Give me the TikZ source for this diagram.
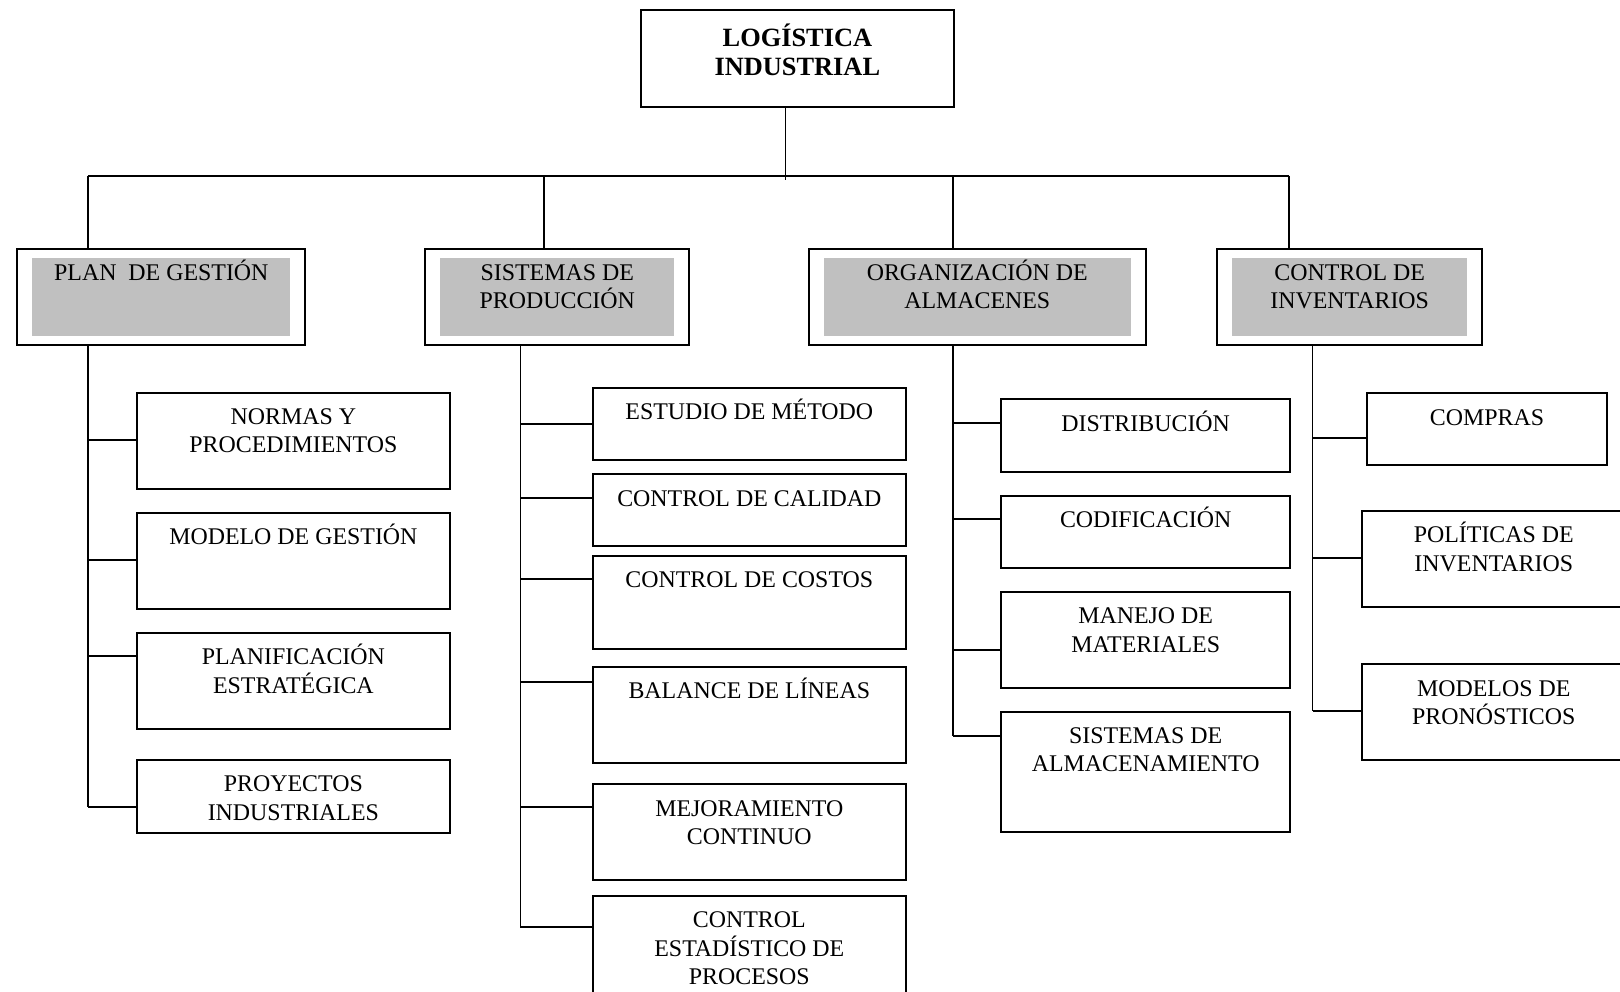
\documentclass[tikz,border=0pt]{standalone}
\usepackage{fontspec}
\setmainfont{Liberation Serif}
\usetikzlibrary{positioning,fit}
\definecolor{panel}{RGB}{192,192,192}

\begin{document}
\begin{tikzpicture}[x=0.02cm, y=-0.02cm]
      \tikzstyle{box} = [draw, rectangle, line width=1.2pt, inner sep=0pt, anchor=north west]
      \tikzstyle{band} = [fill=panel, inner xsep=-0.32cm, inner ysep=-0.21cm]
      \tikzstyle{lbl} = [align=center, inner sep=0pt, font=\fontsize{13.6}{16.2}\selectfont]
      \tikzstyle{link} = [line width=1pt]
      \useasboundingbox (0,0) rectangle (1620,991);
      \clip (0,0) rectangle (1620,991);

      % raiz
      \node [box, minimum width=6.254cm, minimum height=1.94cm] (log) at (640,9) {};
      \node [lbl, font=\fontsize{15}{16.7}\selectfont\bfseries, below=0.742cm of log.north, anchor=base, yshift=-16.7pt] (log-t) {LOGÍSTICA\\INDUSTRIAL};

      % areas
      \node [box, minimum width=5.764cm, minimum height=1.926cm] (plan) at (16.2,247.7) {};
      \node [box, minimum width=5.282cm, minimum height=1.926cm] (sist) at (424.2,247.7) {};
      \node [box, minimum width=6.738cm, minimum height=1.926cm] (alm) at (807.8,247.7) {};
      \node [box, minimum width=5.294cm, minimum height=1.926cm] (inv) at (1216.3,247.7) {};
      \foreach \n in {plan,sist,alm,inv}
        \node [band, fit=(\n)] (\n-bg) {};

      % plan de gestion
      \node [box, minimum width=6.254cm, minimum height=1.932cm] (nor) at (136,391.7) {};
      \node [box, minimum width=6.254cm, minimum height=1.92cm] (mod) at (136,511.7) {};
      \node [box, minimum width=6.254cm, minimum height=1.926cm] (pla) at (136,632) {};
      \node [box, minimum width=6.254cm, minimum height=1.454cm] (pro) at (136,759) {};

      % sistemas de produccion
      \node [box, minimum width=6.252cm, minimum height=1.452cm] (est) at (592,386.7) {};
      \node [box, minimum width=6.252cm, minimum height=1.44cm] (cal) at (592,473.3) {};
      \node [box, minimum width=6.252cm, minimum height=1.854cm] (cos) at (592,555) {};
      \node [box, minimum width=6.252cm, minimum height=1.92cm] (bal) at (592,665.7) {};
      \node [box, minimum width=6.252cm, minimum height=1.914cm] (mej) at (592,783.3) {};
      \node [box, minimum width=6.252cm, minimum height=2.4cm] (esd) at (592,895) {};

      % organizacion de almacenes
      \node [box, minimum width=5.774cm, minimum height=1.454cm] (dis) at (1000.3,398.3) {};
      \node [box, minimum width=5.774cm, minimum height=1.446cm] (cod) at (1000.3,495) {};
      \node [box, minimum width=5.774cm, minimum height=1.926cm] (man) at (1000.3,591) {};
      \node [box, minimum width=5.774cm, minimum height=2.406cm] (sal) at (1000.3,710.7) {};

      % control de inventarios
      \node [box, minimum width=4.802cm, minimum height=1.44cm] (com) at (1365.9,392.3) {};
      \node [box, minimum width=5.29cm, minimum height=1.92cm] (pol) at (1360.5,510) {};
      \node [box, minimum width=5.29cm, minimum height=1.914cm] (mdp) at (1360.5,663.3) {};

      % \k = lineas extra del texto
      \foreach \n/\k/\t in {plan/0/{PLAN~ DE GESTIÓN}, sist/1/{SISTEMAS DE\\PRODUCCIÓN},
          alm/1/{ORGANIZACIÓN DE\\ALMACENES}, inv/1/{CONTROL DE\\INVENTARIOS},
          nor/1/{NORMAS Y\\PROCEDIMIENTOS}, mod/0/{MODELO DE GESTIÓN},
          pla/1/{PLANIFICACIÓN\\ESTRATÉGICA}, pro/1/{PROYECTOS\\INDUSTRIALES},
          est/0/{ESTUDIO DE MÉTODO}, cal/0/{CONTROL DE CALIDAD}, cos/0/{CONTROL DE COSTOS},
          bal/0/{BALANCE DE LÍNEAS}, mej/1/{MEJORAMIENTO\\CONTINUO},
          esd/2/{CONTROL\\ESTADÍSTICO DE\\PROCESOS},
          dis/0/{DISTRIBUCIÓN}, cod/0/{CODIFICACIÓN}, man/1/{MANEJO DE\\MATERIALES},
          sal/1/{SISTEMAS DE\\ALMACENAMIENTO},
          com/0/{COMPRAS}, pol/1/{POLÍTICAS DE\\INVENTARIOS}, mdp/1/{MODELOS DE\\PRONÓSTICOS}}
        \node [lbl, below=0.654cm of \n.north, anchor=base, yshift=-\k*16.2pt] (\n-t) {\t};

      % conectores
      \coordinate (pl-bus) at (87.9,175.7);
      \coordinate (si-bus) at (544,175.7);
      \coordinate (al-bus) at (952.7,175.7);
      \coordinate (in-bus) at (1289,175.7);
      \draw [link] (log.south) ++(-12,0) -- ++(0,72.3);
      \draw [link] (pl-bus) -- (in-bus);
      \foreach \b/\n in {pl-bus/plan, si-bus/sist, al-bus/alm, in-bus/inv}
        \draw [link] (\b) -- (\b |- \n.north);

      \foreach \n/\d/\l in {nor/48.3/48.1, mod/48.3/48.1, pla/23.7/48.1, pro/47.7/48.1,
          est/37.3/71.6, cal/24.4/71.6, cos/23.7/71.6, bal/16.6/71.6, mej/24/71.6, esd/31.7/71.6,
          dis/25/47.6, cod/24/47.6, man/59/47.6, sal/25/47.6,
          com/45.4/53.3, pol/47.7/47.9, mdp/47.4/47.9}
        \draw [link] (\n.north west) ++(0,\d) -- ++(-\l,0) coordinate (\n-j);

      \draw [link] (pro-j |- plan.south) -- (pro-j);
      \draw [link] (esd-j |- sist.south) -- (esd-j);
      \draw [link] (sal-j |- alm.south) -- (sal-j);
      \draw [link] (mdp-j |- inv.south) -- (mdp-j);
\end{tikzpicture}
\end{document}
